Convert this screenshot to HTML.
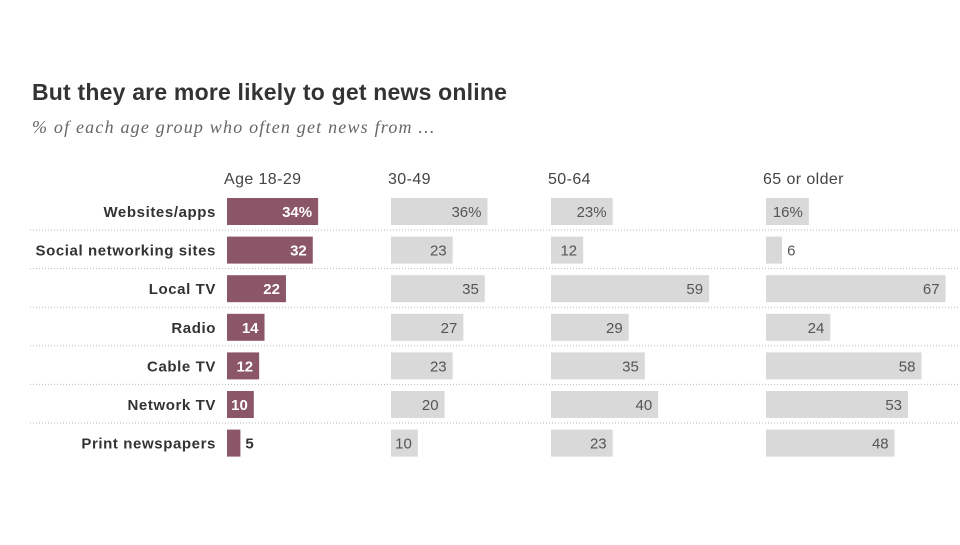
<!DOCTYPE html>
<html><head><meta charset="utf-8"><style>
body{margin:0;background:#fff;width:960px;height:540px;overflow:hidden;font-family:"Liberation Sans",sans-serif;}
</style></head><body>
<svg width="960" height="540">
<text x="32" y="100" font-size="23" font-weight="bold" fill="#333" letter-spacing="0.2">But they are more likely to get news online</text>
<text x="32" y="133" font-size="18" font-style="italic" fill="#666" letter-spacing="1.2" font-family="Liberation Serif, serif">% of each age group who often get news from ...</text>
<g id="g"></g>
</svg>
<script>
const categories=["Websites/apps","Social networking sites","Local TV","Radio","Cable TV","Network TV","Print newspapers"];
const groups=["Age 18-29","30-49","50-64","65 or older"];
const age1829=[34,32,22,14,12,10,5];
const age3049=[36,23,35,27,23,20,10];
const age5064=[23,12,59,29,35,40,23];
const age65=[16,6,67,24,58,53,48];
const series=[age1829,age3049,age5064,age65];
const colX=[227,391,551,766];
const scale=2.68;
const rowY=i=>198+i*38.6;
const g=document.getElementById('g');
const NS="http://www.w3.org/2000/svg";
function mk(t,a,txt){const e=document.createElementNS(NS,t);for(const k in a)e.setAttribute(k,a[k]);if(txt!==undefined)e.textContent=txt;g.appendChild(e);return e;}
groups.forEach((n,j)=>{const e=mk('text',{x:colX[j]-3,y:184,'font-size':16,'letter-spacing':0.4,fill:'#444'},n);

});
categories.forEach((c,i)=>{
 const y=rowY(i);
 const l=mk('text',{x:216,y:y+19,'font-size':15,'letter-spacing':0.6,'font-weight':'bold',fill:'#333','text-anchor':'end'},c);
 
 
 if(i<categories.length-1){const s=mk('line',{x1:30,x2:960,y1:y+32,y2:y+32,stroke:'#bbb','stroke-width':1,'stroke-dasharray':'1,2'});
 
 }
 series.forEach((arr,j)=>{
  const v=arr[i],w=v*scale;
  const r=mk('rect',{x:colX[j],y:y,width:w,height:27,fill:j==0?'#8b5667':'#d9d9d9'});
  
  
  const lab=(i==0?v+'%':''+v);
  const inside=v>=8;
  const t=mk('text',{x:inside?colX[j]+w-6:colX[j]+w+5,y:y+19,'font-size':15,'text-anchor':inside?'end':'start',fill:j==0&&inside?'#fff':'#555','font-weight':j==0?'bold':'normal'},lab);
  if(j==0&&!inside)t.setAttribute('fill','#333');
  
  
 });
});
</script>
</body></html>
